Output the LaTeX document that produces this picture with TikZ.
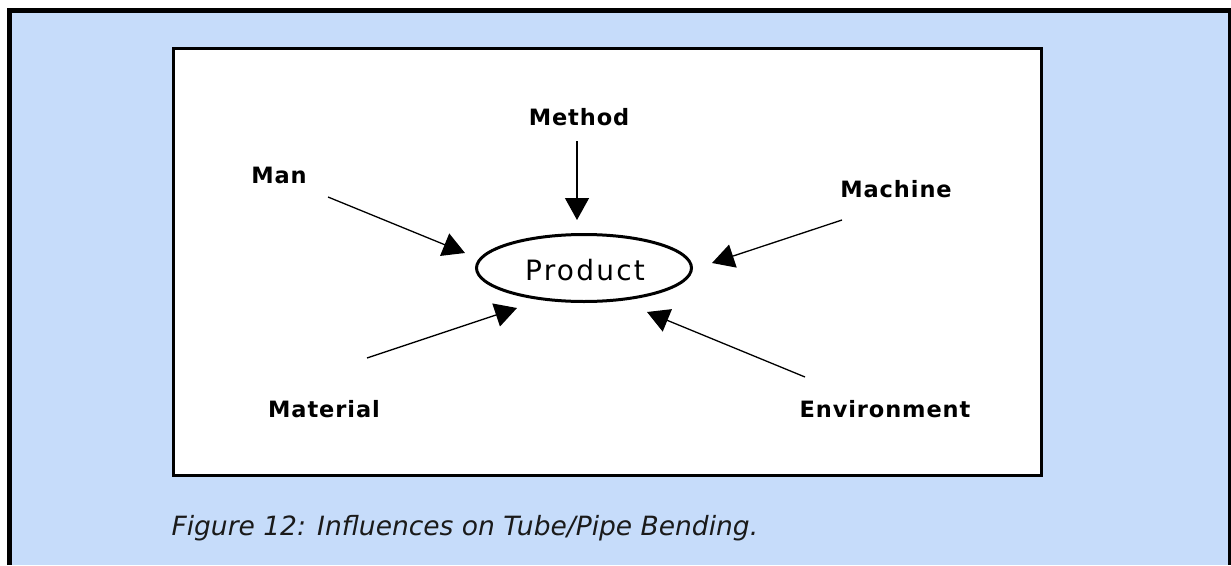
\documentclass[tikz,border=0pt]{standalone}
\usepackage{fontspec}
\setmainfont{DejaVu Sans}
\usepackage{tikz}
\usetikzlibrary{arrows.meta,shapes.geometric}
\definecolor{panelblue}{RGB}{198,220,250}
\definecolor{captext}{RGB}{26,26,26}

\begin{document}
\begin{tikzpicture}[x=1pt,y=-1pt,
  lbl/.style={anchor=base,font=\bfseries\fontsize{22.5}{26}\selectfont\addfontfeature{LetterSpace=4}},
  infl/.style={-{Triangle[length=22pt,width=24pt]},line width=1.3pt}]
\useasboundingbox (0,0) rectangle (1231,565);
\fill[panelblue] (9.5,10.5) rectangle (1231,565);
\draw[line width=5pt] (9.5,565) -- (9.5,10.5) -- (1230,10.5) -- (1230,565);
\draw[fill=white,line width=3pt] (173.5,48.5) rectangle (1041.5,475.5);
% centre
\node[ellipse,draw,line width=3pt,minimum width=215pt,minimum height=67pt,inner sep=0pt] (prod) at (584,268) {};
\node[anchor=base,font=\fontsize{28}{32}\selectfont\addfontfeature{LetterSpace=8}] (prodtxt) at (585,280) {Product};
% influences
\node[lbl] (method) at (579,125) {Method};
\node[lbl] (man) at (279,183) {Man};
\node[lbl] (machine) at (896,197) {Machine};
\node[lbl] (material) at (324,417) {Material};
\node[lbl] (envir) at (885,417) {Environment};
\coordinate (methodS) at (577,141);
\coordinate (methodE) at (577,220);
\coordinate (manS) at (328,197);
\coordinate (manE) at (465,253);
\coordinate (machineS) at (842,220);
\coordinate (machineE) at (712,263);
\coordinate (materialS) at (367,358);
\coordinate (materialE) at (517,308);
\coordinate (envirS) at (805,377);
\coordinate (envirE) at (647,312);
\draw[infl] (methodS) -- (methodE);
\draw[infl] (manS) -- (manE);
\draw[infl] (machineS) -- (machineE);
\draw[infl] (materialS) -- (materialE);
\draw[infl] (envirS) -- (envirE);
% caption
\node[anchor=base west,text=captext,font=\itshape\fontsize{26.5}{31}\selectfont] (cap) at (168,535) {Figure 12: Influences on Tube/Pipe Bending.};
\end{tikzpicture}
\end{document}
